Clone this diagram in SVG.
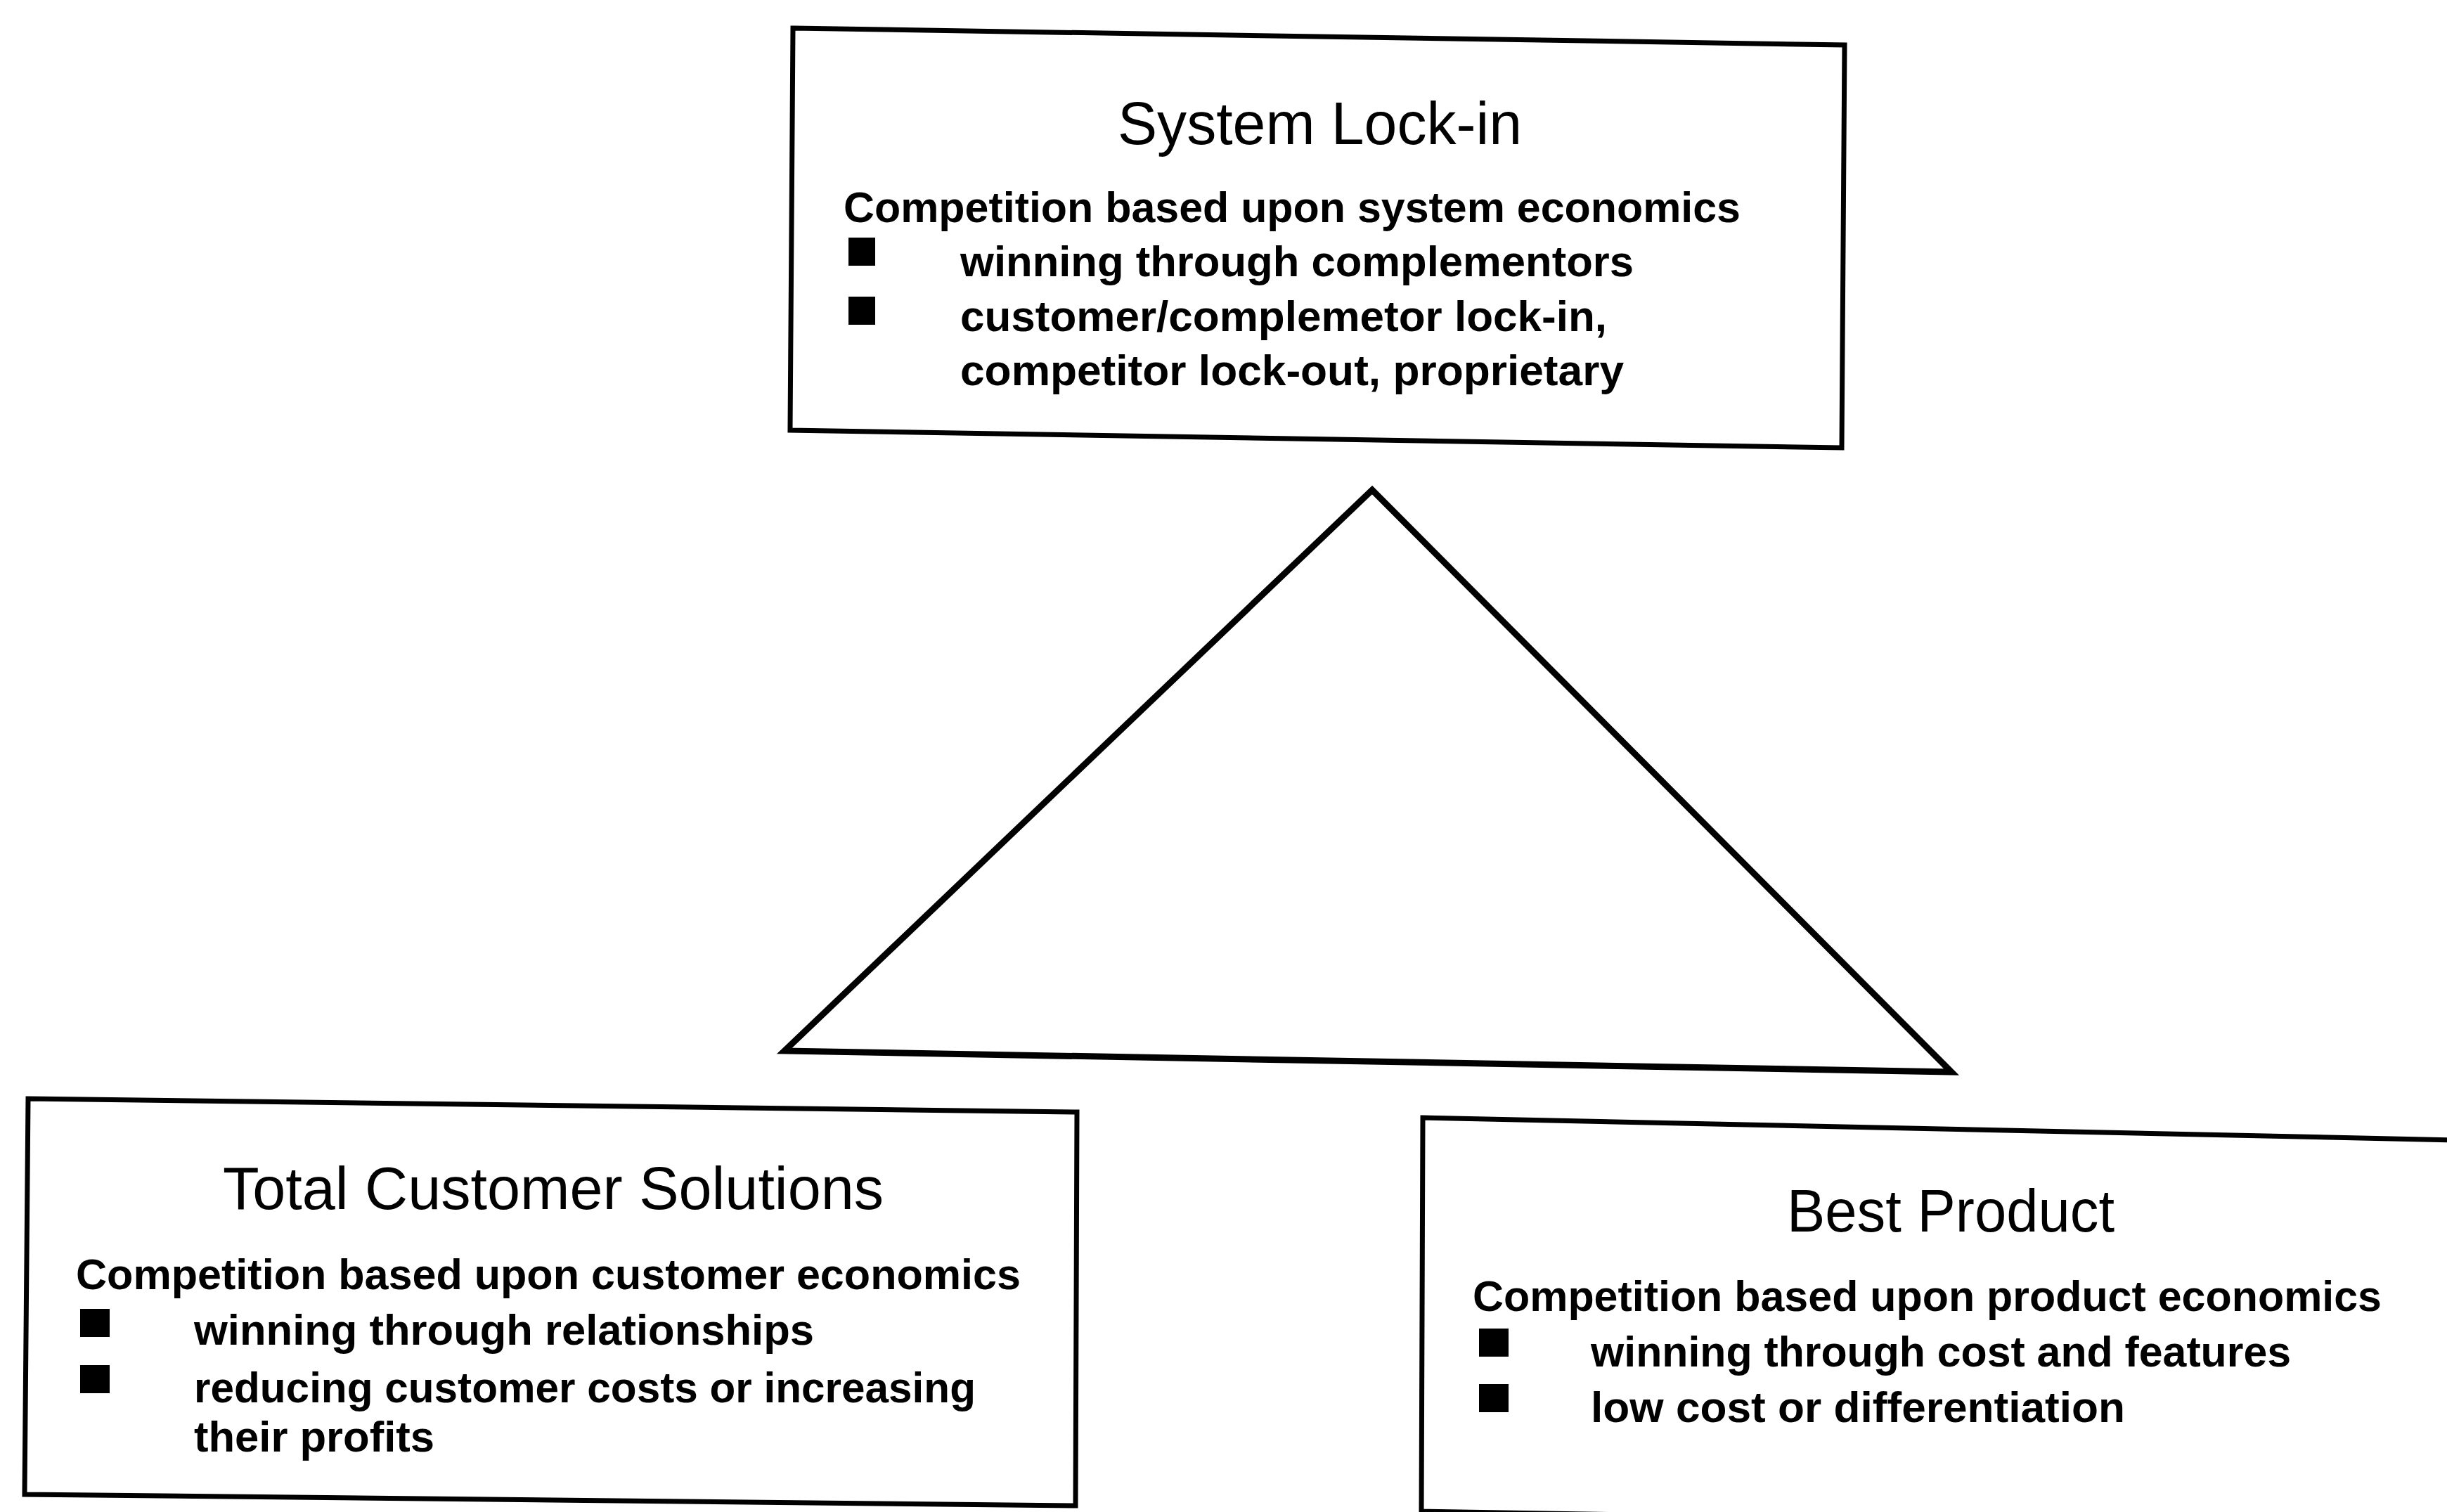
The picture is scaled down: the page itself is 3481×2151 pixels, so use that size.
<svg xmlns="http://www.w3.org/2000/svg" width="3481" height="2151" viewBox="0 0 3481 2151">
<style>
.box{fill:#fff;stroke:#000;stroke-width:7;stroke-linejoin:miter}
.tri{fill:none;stroke:#000;stroke-width:9;stroke-linejoin:miter}
.title{font-family:"Liberation Sans",Arial,sans-serif;font-size:86px;fill:#000;text-anchor:start}
.body{font-family:"Liberation Sans",Arial,sans-serif;font-size:62px;font-weight:bold;fill:#000}
.bul{fill:#000}
</style>
<rect width="3481" height="2151" fill="#fff"/>
<g id="connectors">
<polygon class="tri" points="1952,697 1116,1495 2776,1525"/>
</g>
<g id="system-lock-in">
<polygon class="box" points="1128,40 2624,64 2620,637 1124,612"/>
<text class="title" x="1590" y="205" textLength="575" lengthAdjust="spacingAndGlyphs">System Lock-in</text>
<text class="body" x="1200" y="316" textLength="1276" lengthAdjust="spacingAndGlyphs">Competition based upon system economics</text>
<rect class="bul" x="1207" y="338" width="38" height="40"/>
<text class="body" x="1366" y="393" textLength="958" lengthAdjust="spacingAndGlyphs">winning through complementors</text>
<rect class="bul" x="1207" y="422" width="38" height="40"/>
<text class="body" x="1366" y="471" textLength="920" lengthAdjust="spacingAndGlyphs">customer/complemetor lock-in,</text>
<text class="body" x="1366" y="548" textLength="944" lengthAdjust="spacingAndGlyphs">competitor lock-out, proprietary</text>
</g>
<g id="total-customer-solutions">
<polygon class="box" points="40,1563 1532,1582 1530,2142 35,2126"/>
<text class="title" x="317" y="1720" textLength="940" lengthAdjust="spacingAndGlyphs">Total Customer Solutions</text>
<text class="body" x="108" y="1834" textLength="1344" lengthAdjust="spacingAndGlyphs">Competition based upon customer economics</text>
<rect class="bul" x="114" y="1862" width="42" height="40"/>
<text class="body" x="276" y="1913" textLength="882" lengthAdjust="spacingAndGlyphs">winning through relationships</text>
<rect class="bul" x="114" y="1942" width="42" height="40"/>
<text class="body" x="276" y="1995" textLength="1112" lengthAdjust="spacingAndGlyphs">reducing customer costs or increasing</text>
<text class="body" x="276" y="2065" textLength="342" lengthAdjust="spacingAndGlyphs">their profits</text>
</g>
<g id="best-product">
<polygon class="box" points="2024,1590 3495,1622 3495,2175 2022,2150"/>
<text class="title" x="2542" y="1752" textLength="466" lengthAdjust="spacingAndGlyphs">Best Product</text>
<text class="body" x="2095" y="1865" textLength="1293" lengthAdjust="spacingAndGlyphs">Competition based upon product economics</text>
<rect class="bul" x="2104" y="1890" width="42" height="40"/>
<text class="body" x="2263" y="1944" textLength="996" lengthAdjust="spacingAndGlyphs">winning through cost and features</text>
<rect class="bul" x="2104" y="1969" width="42" height="40"/>
<text class="body" x="2263" y="2023" textLength="760" lengthAdjust="spacingAndGlyphs">low cost or differentiation</text>
</g>
</svg>
